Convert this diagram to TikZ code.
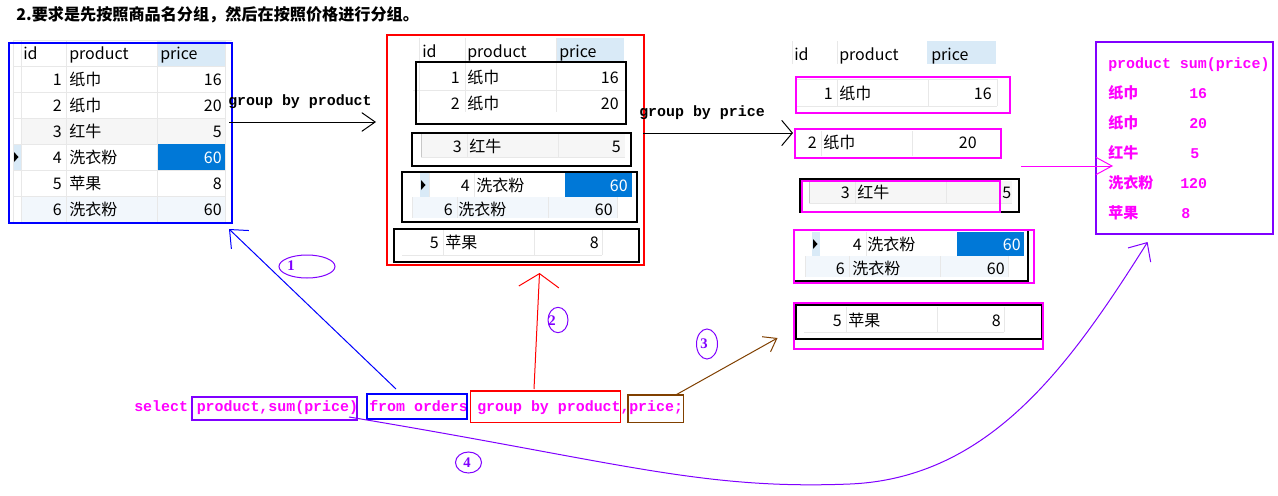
\documentclass[tikz,border=0pt]{standalone}
\usepackage{fontspec}
\setmainfont{Noto Sans CJK SC}
\newfontfamily\codefont{Liberation Mono}
\newfontfamily\numfont{Liberation Serif}
\usetikzlibrary{arrows.meta,shapes.geometric,fit}
\definecolor{hdrbg}{HTML}{D9EAF7}
\definecolor{selbg}{HTML}{0078D7}
\definecolor{gridc}{HTML}{E8E8E8}
\definecolor{gridd}{HTML}{C8C8C8}
\definecolor{graybg}{HTML}{F6F6F6}
\definecolor{bluebg}{HTML}{F2F7FC}
\definecolor{mag}{HTML}{FF00FF}
\definecolor{purp}{HTML}{8000FF}
\definecolor{brn}{HTML}{804000}
\newcommand\trow[8]{%
  \node[cell,anchor=east] (#1i) at (#3,#2) {#4};
  \node[cell,anchor=west] (#1p) at (#5,#2) {#6};
  \node[cell,anchor=east] (#1v) at (#7,#2) {#8};}
\begin{document}
\begin{tikzpicture}[x=0.75pt,y=-0.75pt,
  cell/.style={inner sep=0pt,font=\fontsize{12pt}{14pt}\selectfont,text height=9.1pt,text depth=0pt},
  code/.style={inner sep=0pt,font=\codefont\bfseries\fontsize{11.2pt}{13pt}\selectfont,text height=8.1pt,text depth=0pt},
  ttl/.style={inner sep=0pt,font=\bfseries\fontsize{12.1pt}{14pt}\selectfont,text height=9.2pt,text depth=0pt},
  res/.style={inner sep=0pt,text=mag,font=\bfseries\fontsize{11.25pt}{13pt}\selectfont,text height=8.55pt,text depth=0pt},
  num/.style={inner sep=0pt,text=purp,font=\numfont\bfseries\fontsize{11pt}{13pt}\selectfont},
  oval/.style={ellipse,draw=purp,line width=0.75pt,inner sep=0pt},
  grid/.style={draw=gridc,line width=0.75pt},
  frame/.style={line width=0.9pt},
  box/.style={inner sep=0pt,line width=0.9pt},
  arrline/.style={line width=0.75pt}]
\useasboundingbox (0,0) rectangle (1278,496);
\fill[white] (0,0) rectangle (1278,496);
% title
\node[ttl,anchor=west] (title) at (16,14) {2.要求是先按照商品名分组，然后在按照价格进行分组。};
% ---------------- table 1
\fill[hdrbg] (157,40) rectangle (225,66);
\fill[graybg] (21,118) rectangle (225,144);
\fill[bluebg] (21,196) rectangle (225,222);
\fill[hdrbg] (13,144) rectangle (21,170);
\draw[grid] (13,40) -- (232,40);
\foreach \yy in {66,92,118,144,170,196} {\draw[grid] (13,\yy) -- (225,\yy);}
\foreach \xx in {13,21,66,157,225} {\draw[grid] (\xx,40) -- (\xx,222);}
\fill[selbg] (158,144) rectangle (225,170);
\fill (14,152) -- (18.5,157) -- (14,162) -- cycle;
\draw[blue,frame] (9,43) rectangle (232,223);
\node[cell,anchor=west] (tahi) at (23,53) {id};
\node[cell,anchor=west] (tahp) at (69,53) {product};
\node[cell,anchor=west] (tahv) at (160,53) {price};
\trow{ta1}{79}{62}{1}{69}{纸巾}{222}{16}
\trow{ta2}{105}{62}{2}{69}{纸巾}{222}{20}
\trow{ta3}{131}{62}{3}{69}{红牛}{222}{5}
\trow{ta4}{157}{62}{4}{69}{洗衣粉}{222}{\textcolor{white}{60}}
\trow{ta5}{183}{62}{5}{69}{苹果}{222}{8}
\trow{ta6}{209}{62}{6}{69}{洗衣粉}{222}{60}
% ---------------- table 2
\fill[hdrbg] (556,38) rectangle (624,63);
\foreach \xx in {419,465,556} {\draw[grid] (\xx,38) -- (\xx,112);}
\draw[grid] (413,90) -- (625,90);
\draw[frame] (416,62) rectangle (626,124);
\node[cell,anchor=west] (tbhi) at (422,51) {id};
\node[cell,anchor=west] (tbhp) at (467,51) {product};
\node[cell,anchor=west] (tbhv) at (559,51) {price};
\trow{tb1}{77}{460}{1}{467}{纸巾}{619}{16}
\trow{tb2}{103}{460}{2}{467}{纸巾}{619}{20}
\fill[graybg] (421,134) rectangle (625,157);
\draw[draw=gridd,line width=0.75pt] (421,134) -- (421,157);
\foreach \xx in {467,558} {\draw[grid] (\xx,134) -- (\xx,157);}
\draw[grid] (421,157) -- (625,157);
\draw[frame] (412,133) rectangle (631,166);
\trow{tb3}{146}{462}{3}{469}{红牛}{621}{5}
\fill[hdrbg] (420,173) rectangle (429,197);
\fill (421,180) -- (425.5,185) -- (421,190) -- cycle;
\foreach \xx in {429,474} {\draw[grid] (\xx,173) -- (\xx,197);}
\fill[bluebg] (412,197) rectangle (617,218);
\foreach \xx in {412,457,548,617} {\draw[grid] (\xx,197) -- (\xx,218);}
\fill[selbg] (565,173) rectangle (632,197);
\draw[frame] (402,172) rectangle (637,222);
\trow{tb4}{185}{470}{4}{476}{洗衣粉}{628}{\textcolor{white}{60}}
\trow{tb6}{209}{453}{6}{458}{洗衣粉}{613}{60}
\foreach \xx in {443,534,602} {\draw[grid] (\xx,230) -- (\xx,255);}
\draw[grid] (402,255) -- (602,255);
\draw[frame] (394,229) rectangle (639,262);
\trow{tb5}{242}{439}{5}{445}{苹果}{599}{8}
\draw[red,frame] (387,35) rectangle (644,265);
% ---------------- table 3
\fill[hdrbg] (927,41) rectangle (996,64);
\foreach \xx in {792,837} {\draw[grid] (\xx,41) -- (\xx,64);}
\node[cell,anchor=west] (tchi) at (794,54) {id};
\node[cell,anchor=west] (tchp) at (839,54) {product};
\node[cell,anchor=west] (tchv) at (931,54) {price};
\draw[grid] (797,79) -- (997,79);
\draw[grid] (797,106) -- (997,106);
\foreach \xx in {837,928,997} {\draw[grid] (\xx,79) -- (\xx,106);}
\draw[mag,frame] (796,77) rectangle (1010,113);
\trow{tc1}{93}{833}{1}{839}{纸巾}{992}{16}
\foreach \xx in {821,912} {\draw[grid] (\xx,131) -- (\xx,156);}
\draw[mag,frame] (795,129) rectangle (1001,158);
\trow{tc2}{142}{817}{2}{823}{纸巾}{977}{20}
\fill[graybg] (809,181) rectangle (1012,203);
\draw[draw=gridd,line width=0.75pt] (809,181) -- (809,203);
\foreach \xx in {855,946} {\draw[grid] (\xx,181) -- (\xx,203);}
\draw[grid] (809,203) -- (1012,203);
\draw[frame] (800,179) rectangle (1019,212);
\draw[mag,frame] (802,181) rectangle (1000,212);
\node[cell,anchor=east] (tc3i) at (850,192) {3};
\node[cell,anchor=west] (tc3p) at (857,192) {红牛};
\node[cell,anchor=west] (tc3v) at (1002,192) {5};
\fill[hdrbg] (812,232) rectangle (820,256);
\fill (813,239) -- (817.5,244) -- (813,249) -- cycle;
\draw[grid] (866,232) -- (866,256);
\fill[bluebg] (805,256) rectangle (1008,277);
\foreach \xx in {805,849,940,1008} {\draw[grid] (\xx,256) -- (\xx,277);}
\fill[selbg] (957,232) rectangle (1024,256);
\draw[frame] (1028,230) -- (1028,281) -- (794,281);
\draw[mag,frame] (794,230) rectangle (1034,283);
\trow{tc4}{244}{862}{4}{867}{洗衣粉}{1021}{\textcolor{white}{60}}
\trow{tc6}{268}{845}{6}{852}{洗衣粉}{1005}{60}
\foreach \xx in {846,937,1004} {\draw[grid] (\xx,307) -- (\xx,332);}
\draw[grid] (804,332) -- (1004,332);
\draw[frame] (796,305) rectangle (1042,339);
\draw[mag,frame] (794,303) rectangle (1043,349);
\trow{tc5}{320}{842}{5}{848}{苹果}{1001}{8}
% ---------------- result box
\node[box,fit={(1096,42) (1273,234)},draw=purp] (resbox) {};
\node[code,text=mag,anchor=west] (rhead) at (1108,63) {product sum(price)};
\node[res,anchor=west] (r1p) at (1108,93) {纸巾};
\node[res,anchor=west] (r2p) at (1108,123) {纸巾};
\node[res,anchor=west] (r3p) at (1108,153) {红牛};
\node[res,anchor=west] (r4p) at (1108,183) {洗衣粉};
\node[res,anchor=west] (r5p) at (1108,213) {苹果};
\node[code,text=mag,anchor=west] (r1v) at (1189,93) {16};
\node[code,text=mag,anchor=west] (r2v) at (1189,123) {20};
\node[code,text=mag,anchor=west] (r3v) at (1190,153) {5};
\node[code,text=mag,anchor=west] (r4v) at (1180,183) {120};
\node[code,text=mag,anchor=west] (r5v) at (1181,213) {8};
% ---------------- step arrows
\node[code,anchor=west] (lgbp) at (228,100) {group by product};
\coordinate (a1s) at (229,122); \coordinate (a1e) at (376,122);
\draw[arrline,-{Straight Barb[length=10pt,width=14pt]}] (a1s) -- (a1e);
\node[code,anchor=west] (lgbpr) at (639,111) {group by price};
\coordinate (a2s) at (643,133); \coordinate (a2e) at (793,133);
\draw[arrline,-{Straight Barb[length=8pt,width=19pt]}] (a2s) -- (a2e);
\coordinate (a3s) at (1021,166); \coordinate (a3e) at (1113,166);
\draw[mag,arrline,-{Straight Barb[length=12pt,width=13pt]}] (a3s) -- (a3e);
% ---------------- SQL line
\node[code,text=mag,anchor=west] (sel) at (134,406) {select};
\node[code,text=mag,anchor=west] (q1) at (196.5,406) {product,sum(price)};
\node[code,text=mag,anchor=west] (q2) at (369,406) {from orders};
\node[code,text=mag,anchor=west] (q3) at (477,406) {group by product,};
\node[code,text=mag,anchor=west] (q4) at (629,406) {price;};
\node[box,fit={(192,397) (357,420)},draw=purp] (b1) {};
\node[box,fit={(367,394) (467,419)},draw=blue] (b2) {};
\node[box,fit={(470.5,391) (620.6,422.7)},draw=red] (b3) {};
\node[box,fit={(628,395) (683.7,422.7)},draw=brn] (b4) {};
% connectors
\coordinate (c1s) at (396,389); \coordinate (c1e) at (229,229);
\draw[blue,arrline,-{Straight Barb[length=11pt,width=19pt]}] (c1s) -- (c1e);
\coordinate (c2s) at (534,389); \coordinate (c2e) at (539.5,273);
\draw[red,arrline,-{Straight Barb[length=10pt,width=30pt]}] (c2s) -- (c2e);
\coordinate (c3s) at (675.7,395); \coordinate (c3e) at (777.5,338);
\draw[brn,arrline,-{Straight Barb[length=9pt,width=13pt]}] (c3s) -- (c3e);
\coordinate (c4s) at (349,417); \coordinate (c4e) at (1147.6,242);
\draw[purp,arrline,-{Straight Barb[length=11pt,width=20pt]}] (c4s) .. controls (620,462) and (700,490) .. (850,484) .. controls (990,478) and (1070,365) .. (c4e);
% ovals
\node[oval,minimum width=42pt,minimum height=17.25pt] (e1) at (307,266.5) {};
\node[num] (n1) at (291,266) {1};
\node[oval,minimum width=15pt,minimum height=19pt] (e2) at (558,320) {};
\node[num] (n2) at (552,321) {2};
\node[oval,minimum width=15.75pt,minimum height=22.5pt] (e3) at (707,344) {};
\node[num] (n3) at (704,344) {3};
\node[oval,minimum width=19.5pt,minimum height=15.75pt] (e4) at (468.5,462.5) {};
\node[num] (n4) at (467,463) {4};
\end{tikzpicture}
\end{document}
